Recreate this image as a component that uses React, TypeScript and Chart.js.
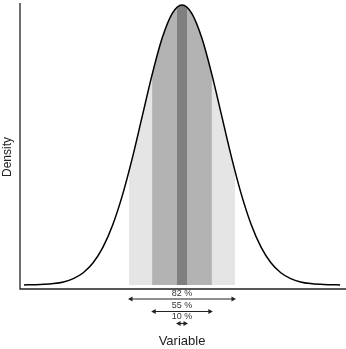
import React, { useEffect, useRef } from "react";
import { Chart, registerables } from "chart.js";

// Density curve (x in SD units, y = density)
const xs = [-4, -3.75, -3.5, -3.25, -3, -2.75, -2.5, -2.25, -2, -1.75, -1.5, -1.25, -1, -0.75, -0.5, -0.25, 0,
  0.25, 0.5, 0.75, 1, 1.25, 1.5, 1.75, 2, 2.25, 2.5, 2.75, 3, 3.25, 3.5, 3.75, 4];
const density = [0.0001, 0.0004, 0.0009, 0.002, 0.0044, 0.0091, 0.0175, 0.0317, 0.054, 0.0863, 0.1295, 0.1826, 0.242, 0.3011, 0.3521, 0.3867, 0.3989,
  0.3867, 0.3521, 0.3011, 0.242, 0.1826, 0.1295, 0.0863, 0.054, 0.0317, 0.0175, 0.0091, 0.0044, 0.002, 0.0009, 0.0004, 0.0001];

// Intervals (half-widths in SD units), labels and colours, narrowest first
const bandLabels = ["10 %", "55 %", "82 %"];
const bandHalfWidths = [0.126, 0.755, 1.341];
const bandColors = ["#7f7f7f", "#b3b3b3", "#e5e5e5"];

const xTitle = "Variable";
const yTitle = "Density";

const points = xs.map((x, i) => ({ x, y: density[i] }));

const bandClip = {
  id: "bandClip",
  beforeDatasetDraw(chart: any, args: any) {
    const ds = chart.data.datasets[args.index] as any;
    if (!ds.band) return;
    const { ctx, chartArea, scales } = chart;
    const x0 = scales.x.getPixelForValue(ds.band[0]);
    const x1 = scales.x.getPixelForValue(ds.band[1]);
    ctx.save();
    ctx.beginPath();
    ctx.rect(x0, chartArea.top, x1 - x0, chartArea.bottom - chartArea.top);
    ctx.clip();
  },
  afterDatasetDraw(chart: any, args: any) {
    const ds = chart.data.datasets[args.index] as any;
    if (!ds.band) return;
    chart.ctx.restore();
  },
};

Chart.register(bandClip, ...registerables);

const decor = {
  id: "decor",
  afterDraw(chart: any) {
    const { ctx, chartArea, scales } = chart;
    const xs_ = scales.x;
    ctx.save();
    // axes
    ctx.strokeStyle = "#222";
    ctx.lineWidth = 1.3;
    ctx.beginPath();
    ctx.moveTo(chartArea.left, chartArea.top);
    ctx.lineTo(chartArea.left, chartArea.bottom);
    ctx.lineTo(chartArea.right, chartArea.bottom);
    ctx.stroke();

    // interval arrows
    const order = [2, 1, 0];
    const textY = [294, 305.5, 317];
    const arrowY = [299, 311.5, 323.5];
    ctx.font = "9px 'Liberation Sans', Arial, sans-serif";
    ctx.textAlign = "center";
    ctx.textBaseline = "middle";
    order.forEach((bi, k) => {
      const c = xs_.getPixelForValue(0);
      const a = xs_.getPixelForValue(-bandHalfWidths[bi]) - 1;
      const b = xs_.getPixelForValue(bandHalfWidths[bi]) + 1;
      const y = arrowY[k];
      ctx.fillStyle = "#333";
      ctx.fillText(bandLabels[bi], c, textY[k]);
      ctx.strokeStyle = "#222";
      ctx.fillStyle = "#222";
      ctx.lineWidth = 1.2;
      ctx.beginPath();
      ctx.moveTo(a + 3, y);
      ctx.lineTo(b - 3, y);
      ctx.stroke();
      ctx.beginPath();
      ctx.moveTo(a, y);
      ctx.lineTo(a + 4.5, y - 2.5);
      ctx.lineTo(a + 4.5, y + 2.5);
      ctx.closePath();
      ctx.fill();
      ctx.beginPath();
      ctx.moveTo(b, y);
      ctx.lineTo(b - 4.5, y - 2.5);
      ctx.lineTo(b - 4.5, y + 2.5);
      ctx.closePath();
      ctx.fill();
    });

    // titles
    ctx.fillStyle = "#222";
    ctx.font = "13px 'Liberation Sans', Arial, sans-serif";
    ctx.fillText(xTitle, xs_.getPixelForValue(0), 341);
    ctx.translate(8, 157);
    ctx.rotate(-Math.PI / 2);
    ctx.font = "12px 'Liberation Sans', Arial, sans-serif";
    ctx.fillText(yTitle, 0, 0);
    ctx.restore();
  },
};

export default function App() {
  const ref = useRef<HTMLCanvasElement>(null);
  useEffect(() => {
    document.body.style.margin = "0";
    const bandDatasets = bandHalfWidths.map((h, i) => ({
      data: points,
      band: [-h, h],
      borderWidth: 0,
      pointRadius: 0,
      backgroundColor: bandColors[i],
      fill: "origin",
      cubicInterpolationMode: "monotone",
    }));
    const chart = new Chart(ref.current!, {
      type: "line",
      data: {
        datasets: [
          {
            data: points,
            borderColor: "#000",
            borderWidth: 1.5,
            pointRadius: 0,
            fill: false,
            cubicInterpolationMode: "monotone",
          } as any,
          ...(bandDatasets as any[]),
        ],
      },
      options: {
        responsive: false,
        animation: false,
        layout: { padding: { left: 20, right: 0, top: 3, bottom: 60 } },
        scales: {
          x: { type: "linear", min: -4.1, max: 4.15, display: false },
          y: { min: -0.0057, max: 0.4017, display: false },
        },
        plugins: { legend: { display: false }, tooltip: { enabled: false } },
      },
      plugins: [decor],
    });
    return () => chart.destroy();
  }, []);
  return (
    <div style={{ position: "fixed", left: 0, top: 0, width: 346, height: 349 }}>
      <canvas ref={ref} width={346} height={349} />
    </div>
  );
}
